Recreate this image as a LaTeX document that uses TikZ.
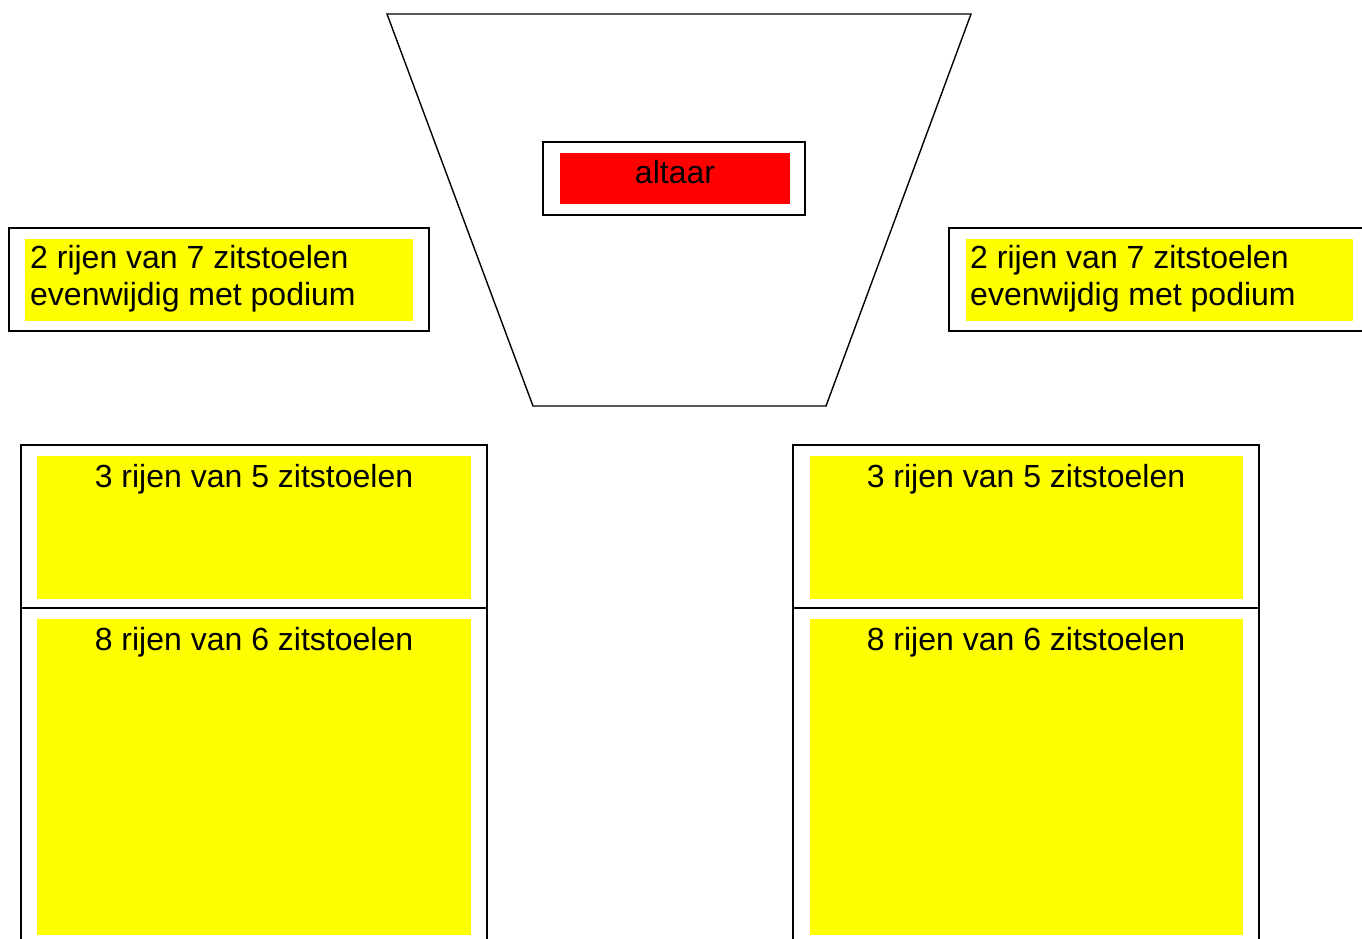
\documentclass[tikz,border=0pt]{standalone}
\usepackage{fontspec}
\setmainfont{Liberation Sans}
\definecolor{seatyellow}{RGB}{255,255,0}
\definecolor{altarred}{RGB}{255,0,0}
\begin{document}
\begin{tikzpicture}[x=1pt,y=-1pt,
  frame/.style={draw=black,line width=1.4pt},
  seat/.style={fill=seatyellow},
  altarfill/.style={fill=altarred},
  lbl/.style={inner sep=0pt,font=\fontsize{32}{37}\selectfont}]
\useasboundingbox (0,0) rectangle (1362,938);
% podium (trapezoid)
\draw[frame,line join=miter] (387,14) -- (971,14) -- (826,406) -- (533,406) -- cycle;
% altaar
\draw[frame] (543,142) rectangle (805,215);
\fill[altarfill] (560,153) rectangle (790,204);
\node[lbl,anchor=base] (altaar) at (675,183) {altaar};
% left parallel seats
\draw[frame] (9,228) rectangle (429,331);
\fill[seat] (25,239) rectangle (413,321);
\node[lbl,anchor=base west] (l1) at (30,268) {2 rijen van 7 zitstoelen};
\node[lbl,anchor=base west] (l2) at (30,305) {evenwijdig met podium};
% right parallel seats
\draw[frame] (949,228) rectangle (1370,331);
\fill[seat] (966,239) rectangle (1353,321);
\node[lbl,anchor=base west] (r1) at (970,268) {2 rijen van 7 zitstoelen};
\node[lbl,anchor=base west] (r2) at (970,305) {evenwijdig met podium};
% bottom left block
\draw[frame] (21,445) rectangle (487,945);
\draw[frame] (21,608) -- (487,608);
\fill[seat] (37,456) rectangle (471,599);
\fill[seat] (37,619) rectangle (471,935);
\node[lbl,anchor=base] (bl1) at (254,487) {3 rijen van 5 zitstoelen};
\node[lbl,anchor=base] (bl2) at (254,650) {8 rijen van 6 zitstoelen};
% bottom right block
\draw[frame] (793,445) rectangle (1259,945);
\draw[frame] (793,608) -- (1259,608);
\fill[seat] (810,456) rectangle (1243,599);
\fill[seat] (810,619) rectangle (1243,935);
\node[lbl,anchor=base] (br1) at (1026,487) {3 rijen van 5 zitstoelen};
\node[lbl,anchor=base] (br2) at (1026,650) {8 rijen van 6 zitstoelen};
\end{tikzpicture}
\end{document}
